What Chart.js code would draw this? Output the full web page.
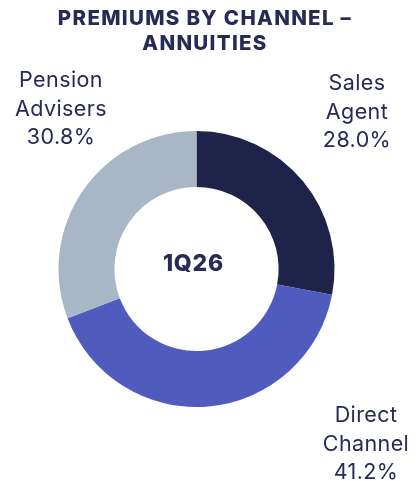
<!DOCTYPE html>
<html>
<head>
<meta charset="utf-8">
<script src="https://cdn.jsdelivr.net/npm/chart.js@4"></script>
<style>
html,body{margin:0;padding:0;background:#fff;}
#wrap{width:420px;height:481px;position:relative;}
</style>
</head>
<body>
<div id="wrap"><canvas id="c" width="420" height="481"></canvas></div>
<script>
const titleLines = ["PREMIUMS BY CHANNEL \u2013", "ANNUITIES"];
const centerLabel = "1Q26";
const categories = ["Sales Agent", "Direct Channel", "Pension Advisers"];
const labelLines = [["Sales", "Agent"], ["Direct", "Channel"], ["Pension", "Advisers"]];
const shares = [28.0, 41.2, 30.8];
const colors = ["#1f2349", "#4f5bbd", "#a8b6c6"];

const textColor = "#262a56";

const textPlugin = {
  id: "texts",
  afterDraw(chart) {
    const ctx = chart.ctx;
    const meta = chart.getDatasetMeta(0);
    const arc = meta.data[0];
    const cx = arc.x, cy = arc.y;
    ctx.save();
    ctx.fillStyle = textColor;
    ctx.textAlign = "center";
    ctx.textBaseline = "alphabetic";
    // title
    ctx.font = "800 20.5px Inter, 'Liberation Sans', sans-serif";
    ctx.letterSpacing = "1.3px";
    ctx.fillText(titleLines[0], 205, 25);
    ctx.fillText(titleLines[1], 205, 50);
    // center
    ctx.font = "800 23px Inter, 'Liberation Sans', sans-serif";
    ctx.letterSpacing = "0.8px";
    ctx.fillText(centerLabel, cx - 3, cy + 2);
    // outside labels
    ctx.font = "21.5px Inter, 'Liberation Sans', sans-serif";
    ctx.letterSpacing = "0.4px";
    const anchors = [[357, 90], [366, 422], [61, 87]];
    for (let i = 0; i < categories.length; i++) {
      const [x, y] = anchors[i];
      const lines = labelLines[i].concat([shares[i].toFixed(1) + "%"]);
      lines.forEach((t, k) => ctx.fillText(t, x, y + k * 28.5));
    }
    ctx.restore();
  }
};

new Chart(document.getElementById("c"), {
  type: "doughnut",
  data: {
    labels: categories,
    datasets: [{
      data: shares,
      backgroundColor: colors,
      borderWidth: 0,
      hoverOffset: 0
    }]
  },
  options: {
    responsive: false,
    animation: false,
    cutout: "59.5%",
    layout: { padding: { left: 58, right: 85, top: 131, bottom: 74 } },
    plugins: {
      legend: { display: false },
      title: { display: false },
      tooltip: { enabled: false }
    }
  },
  plugins: [textPlugin]
});
</script>
</body>
</html>
